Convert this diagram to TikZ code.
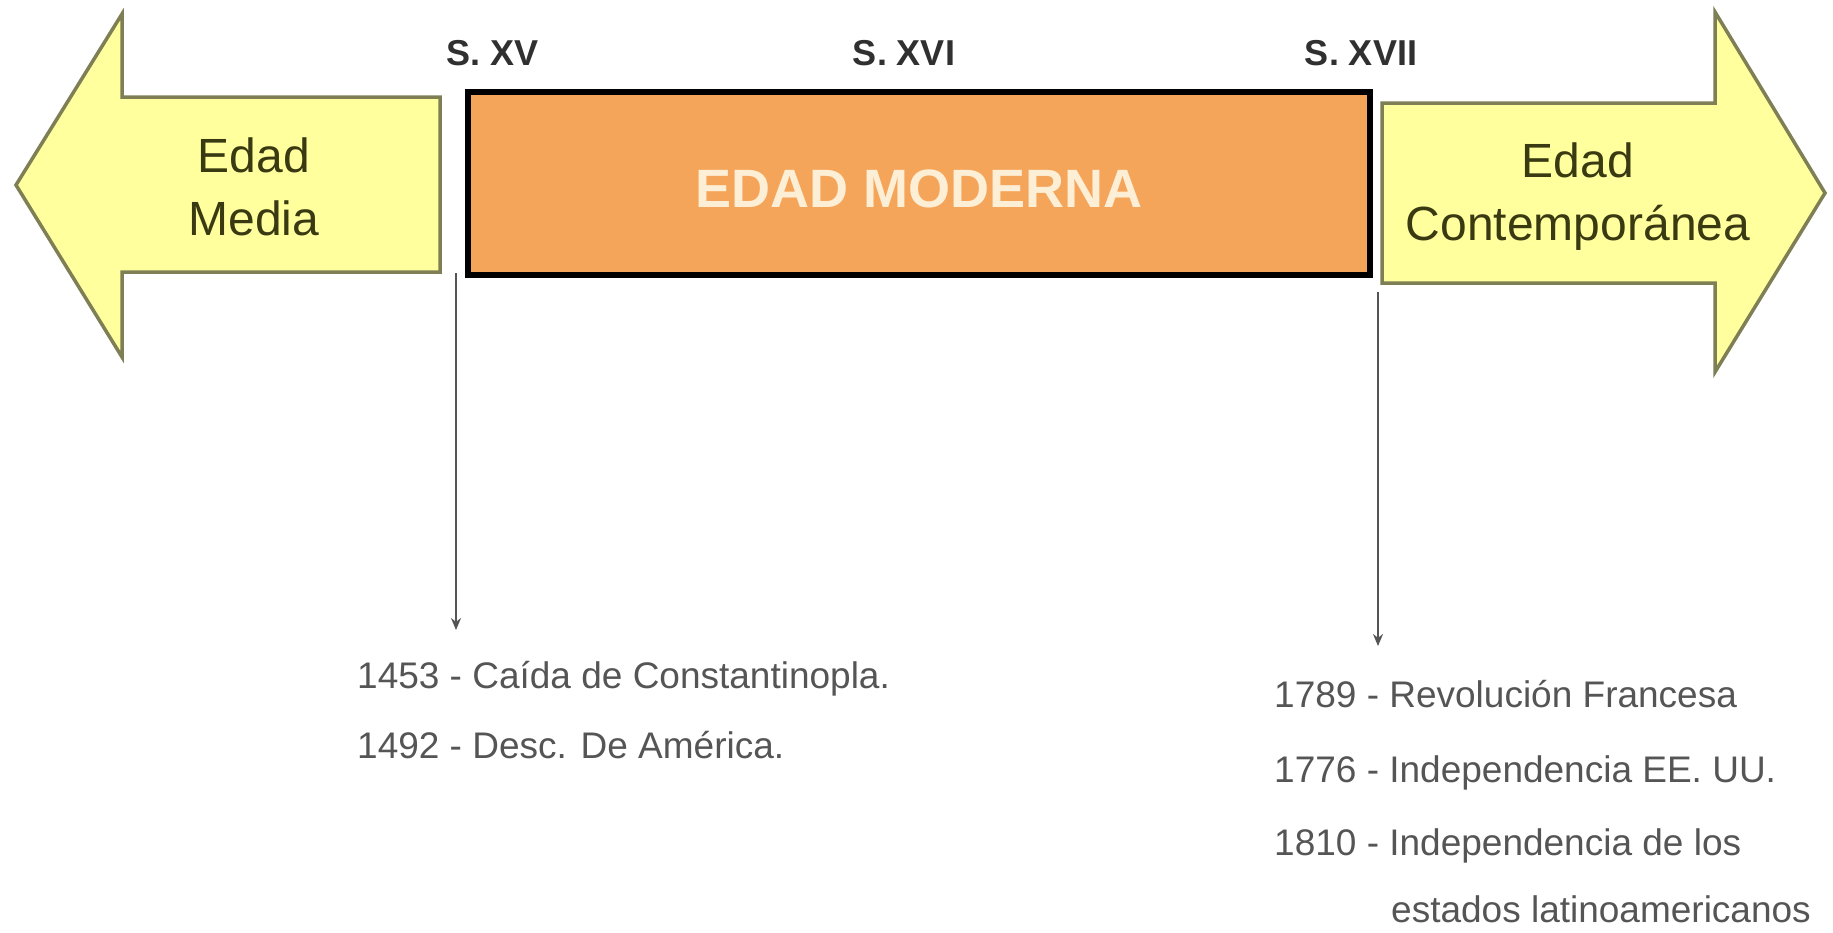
\documentclass[tikz,border=0pt]{standalone}
\usepackage{fontspec}
\setmainfont{Liberation Sans}
\usetikzlibrary{arrows.meta}
\definecolor{arrfill}{HTML}{FFFF9E}
\definecolor{arrdraw}{HTML}{7F7F55}
\definecolor{arrtext}{HTML}{3A3A12}
\definecolor{boxfill}{HTML}{F5A55A}
\definecolor{boxtext}{HTML}{FDEFD6}
\definecolor{evtext}{HTML}{555555}
\definecolor{sigtext}{HTML}{303030}
\tikzset{
  period/.style={fill=arrfill, draw=arrdraw, line width=3.5pt, line join=miter},
  periodtext/.style={text=arrtext, align=center, font=\fontsize{48}{63}\selectfont, inner sep=0pt},
  sigle/.style={text=sigtext, font=\fontsize{36}{40}\selectfont\bfseries, inner sep=0pt},
  event/.style={text=evtext, font=\fontsize{37}{44}\selectfont, anchor=base west, inner sep=0pt},
  pointer/.style={draw=evtext, line width=2.5pt, -{Stealth[length=12pt, width=10pt]}},
}
\begin{document}
\begin{tikzpicture}[x=1pt, y=-1pt]
\useasboundingbox[fill=white] (0,0) rectangle (1833,932);
% left arrow (Edad Media)
\draw[period] (16,185) -- (122,14) -- (122,97) -- (440,97) -- (440,272) -- (122,272) -- (122,357) -- cycle;
% right arrow (Edad Contemporanea)
\draw[period] (1825,193) -- (1715,12) -- (1715,103) -- (1382,103) -- (1382,283) -- (1715,283) -- (1715,372) -- cycle;
% orange box
\node[draw=black, line width=6pt, fill=boxfill, minimum width=902pt, minimum height=183pt, inner sep=0pt] (moderna) at (919,183.5) {};
\node[text=boxtext, font=\fontsize{54}{60}\selectfont\bfseries, inner sep=0pt] (modtxt) at (919,189) {EDAD MODERNA};
\node[periodtext] (media) at (254,187) {Edad\\Media};
\node[periodtext] (contemp) at (1578,197) {Edad\\Contemporánea};
% century labels
\node[sigle] (s15) at (493,53) {S. XV};
\node[sigle] (s16) at (904,53) {S. XVI};
\node[sigle] (s17) at (1361,53) {S. XVII};
% pointers
\coordinate (p1a) at (456,273);
\coordinate (p1b) at (456,630);
\coordinate (p2a) at (1378,292);
\coordinate (p2b) at (1378,646);
\draw[pointer] (p1a) -- (p1b);
\draw[pointer] (p2a) -- (p2b);
% events
\node[event] (e1) at (357,688) {1453 - Caída de Constantinopla.};
\node[event] (e2) at (357,758) {1492 - Desc. De América.};
\node[event] (e3) at (1274,707) {1789 - Revolución Francesa};
\node[event] (e4) at (1274,782) {1776 - Independencia EE. UU.};
\node[event] (e5) at (1274,855) {1810 - Independencia de los};
\node[event] (e6) at (1391,922) {estados latinoamericanos};
\end{tikzpicture}
\end{document}
